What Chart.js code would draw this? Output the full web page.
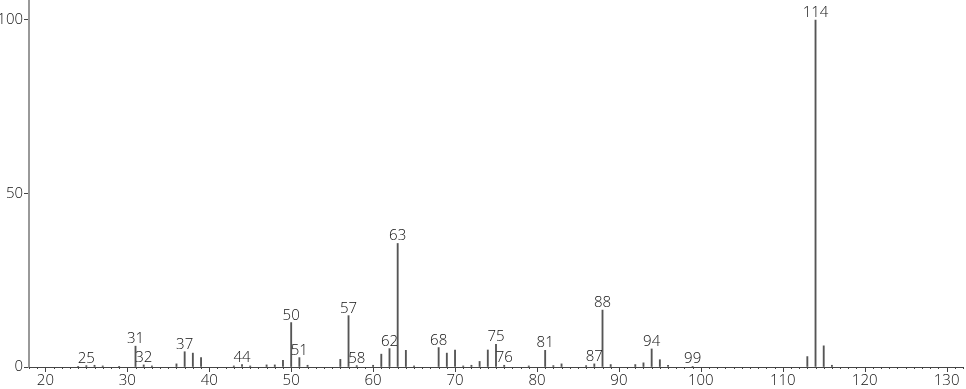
<!DOCTYPE html>
<html>
<head>
<meta charset="utf-8">
<script src="https://cdn.jsdelivr.net/npm/chart.js@4"></script>
<style>
  html, body { margin: 0; padding: 0; background: #fff; }
  #wrap { width: 966px; height: 389px; position: relative; }
</style>
</head>
<body>
<div id="wrap"><canvas id="c"></canvas></div>
<script>
const mz = [24, 25, 26, 27, 29, 31, 32, 33, 36, 37, 38, 39, 43, 44, 45, 47, 48, 49, 50, 51, 52,
  56, 57, 58, 60, 61, 62, 63, 64, 65, 68, 69, 70, 71, 72, 73, 74, 75, 76, 79, 81, 82, 83,
  86, 87, 88, 89, 92, 93, 94, 95, 96, 99, 113, 114, 115, 116];
const intensity = [0.2, 0.4, 0.5, 0.3, 0.2, 6.0, 0.6, 0.3, 0.9, 4.4, 4.0, 2.7, 0.3, 0.7, 0.3, 0.6, 0.6, 1.9, 12.8, 2.7, 0.5,
  2.2, 14.8, 0.4, 0.5, 3.7, 5.3, 35.6, 4.8, 0.3, 5.6, 4.0, 4.9, 0.3, 0.5, 1.6, 4.9, 6.5, 0.5, 0.3, 4.8, 0.4, 0.9,
  0.4, 0.9, 16.4, 0.7, 0.7, 1.2, 5.2, 2.1, 0.5, 0.2, 3.0, 100, 6.1, 0.5];
const labeledPeaks = [25, 31, 32, 37, 44, 50, 51, 57, 58, 62, 63, 68, 75, 76, 81, 87, 88, 94, 99, 114];
const xTickLabels = [20, 30, 40, 50, 60, 70, 80, 90, 100, 110, 120, 130];
const yTickLabels = [0, 50, 100];

const FONT = "'Open Sans', 'DejaVu Sans', sans-serif";

const peakLabels = {
  id: 'peakLabels',
  afterDatasetsDraw(chart) {
    const ctx = chart.ctx, xs = chart.scales.x, ys = chart.scales.y;
    ctx.save();
    ctx.font = '300 15px ' + FONT;
    ctx.fillStyle = '#111';
    ctx.textAlign = 'center';
    ctx.textBaseline = 'alphabetic';
    labeledPeaks.forEach(m => {
      const i = mz.indexOf(m);
      if (i < 0) return;
      const px = xs.getPixelForValue(m);
      const py = ys.getPixelForValue(intensity[i]);
      ctx.fillText(String(m), px, py - 3);
    });
    // x axis tick marks: minor every unit, major every 10
    ctx.strokeStyle = '#444';
    ctx.lineWidth = 1;
    const y0 = chart.chartArea.bottom;
    for (let v = Math.ceil(xs.min); v <= Math.floor(xs.max); v++) {
      const px = Math.round(xs.getPixelForValue(v)) + 0.5;
      const len = xTickLabels.includes(v) ? 5 : 2;
      ctx.beginPath();
      ctx.moveTo(px, y0);
      ctx.lineTo(px, y0 + len);
      ctx.stroke();
    }
    ctx.restore();
  }
};

new Chart(document.getElementById('c'), {
  type: 'bar',
  data: {
    datasets: [{
      data: mz.map((m, i) => ({ x: m, y: intensity[i] })),
      backgroundColor: '#555',
      borderWidth: 0,
      barThickness: 1.2,
      grouped: false
    }]
  },
  options: {
    responsive: true,
    maintainAspectRatio: false,
    animation: false,
    layout: { padding: { top: 0, right: 3, bottom: 0, left: 0 } },
    plugins: { legend: { display: false }, tooltip: { enabled: false } },
    scales: {
      x: {
        type: 'linear',
        min: 18,
        max: 132,
        offset: false,
        afterBuildTicks(scale) { scale.ticks = xTickLabels.map(v => ({ value: v })); },
        afterFit(scale) { scale.height = 22; scale.paddingLeft = 0; scale.paddingRight = 0; },
        grid: { display: true, drawOnChartArea: false, drawTicks: false },
        border: { color: '#444', width: 1 },
        ticks: {
          autoSkip: false,
          maxRotation: 0,
          padding: 5,
          color: '#111',
          font: { family: FONT, size: 15, weight: '300' }
        }
      },
      y: {
        min: 0,
        max: 105.76,
        afterBuildTicks(scale) { scale.ticks = yTickLabels.map(v => ({ value: v })); },
        afterFit(scale) { scale.width = 29; scale.paddingTop = 0; scale.paddingBottom = 0; },
        grid: { display: true, drawOnChartArea: false, drawTicks: true, tickLength: 5, color: '#444' },
        border: { color: '#999', width: 2 },
        ticks: {
          padding: 1,
          color: '#111',
          font: { family: FONT, size: 15, weight: '300' }
        }
      }
    }
  },
  plugins: [peakLabels]
});
</script>
</body>
</html>
